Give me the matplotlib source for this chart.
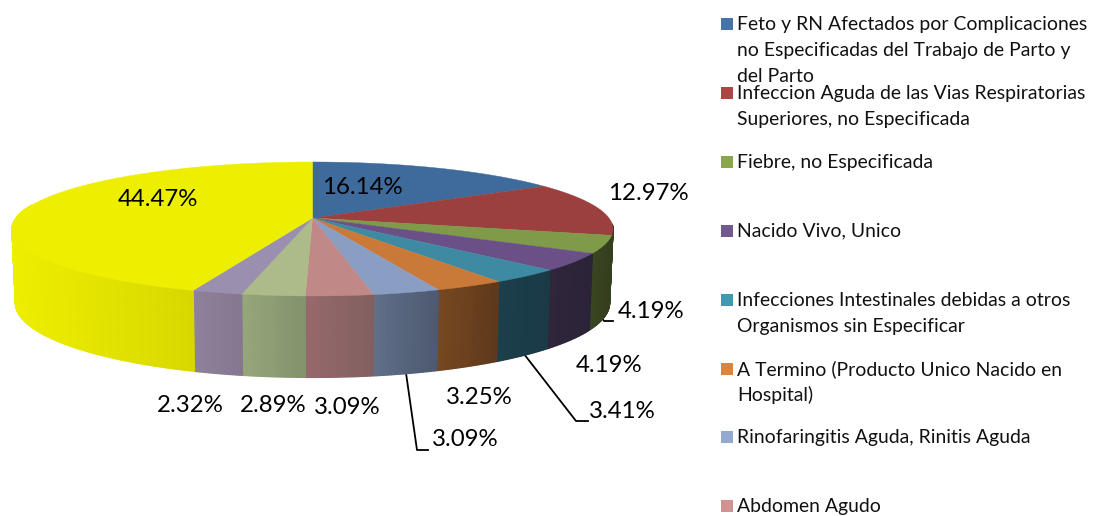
#!/usr/bin/env python3
"""3D style pie chart of hospital diagnoses, drawn on a pixel sized axes."""

import numpy as np
import matplotlib
matplotlib.use('Agg')
import matplotlib.pyplot as plt
from matplotlib.colors import to_rgb

categories = [
    'Feto y RN Afectados por Complicaciones\nno Especificadas del Trabajo de Parto y\ndel Parto',
    'Infeccion Aguda de las Vias Respiratorias\nSuperiores, no Especificada',
    'Fiebre, no Especificada',
    'Nacido Vivo, Unico',
    'Infecciones Intestinales debidas a otros\nOrganismos sin Especificar',
    'A Termino (Producto Unico Nacido en\nHospital)',
    'Rinofaringitis Aguda, Rinitis Aguda',
    'Abdomen Agudo',
]
values = [16.14, 12.97, 4.19, 4.19, 3.41, 3.25, 3.09, 3.09, 2.89, 2.32, 44.47]

top_colors = ['#3F6A9C', '#9B403F', '#7F9A48', '#6A5086', '#3D8AA2', '#C97A38',
              '#8A9DC2', '#C08987', '#ACBB88', '#9B8FAF', '#EEEE00']
wall_left = ['#2A4060', '#3A4522', '#3A4522', '#30263C', '#1B3F4B', '#764820',
             '#5F7088', '#97686B', '#95A67A', '#8E819B', '#EEEE00']
wall_right = ['#2A4060', '#343E1E', '#343E1E', '#2B2337', '#1A3A46', '#5F391C',
              '#4E5970', '#826060', '#84926D', '#857790', '#D8D800']
legend_colors = ['#4572A7', '#AA4643', '#89A54E', '#71588F', '#4198AF', '#DB843D',
                 '#93A9CF', '#D19392']

# label centres in pixels, same order as values
label_x = [362, 648, 651, 609, 622, 479, 465, 347, 273, 190, 158]
label_y = [187, 194, 312, 366, 411, 397, 440, 407, 405, 405, 199]

# leader lines for the labels that were pulled away from the pie
leaders = [
    ([598, 604, 613], [312, 321, 321]),
    ([524, 576, 588], [354, 421, 421]),
    ([406, 417, 428], [373, 450, 450]),
]

FONT = 'Lato'
CX = 312.5
PERSP = 0.164


def project(angle, radius, scale_y, y0):
    # angle in degrees, clockwise from 12 o'clock
    a = np.radians(angle)
    xx, yy = np.sin(a), np.cos(a)
    w = 1 + PERSP * yy
    return CX + radius * xx / w, y0 - scale_y * yy / w


def top_rim(angle):
    return project(angle, 296.4, 65.2, 218)


def bottom_rim(angle):
    return project(angle, 293.0, 72.2, 291)


def mix(c1, c2, t):
    c1, c2 = np.array(to_rgb(c1)), np.array(to_rgb(c2))
    return tuple(c1 + (c2 - c1) * t)


fig = plt.figure(figsize=(10.94, 5.16), dpi=100)
ax = fig.add_axes([0, 0, 1, 1])
ax.set_xlim(0, 1094)
ax.set_ylim(516, 0)
ax.axis('off')

for lx, ly in leaders:
    ax.plot(lx, ly, color='black', lw=1.3, zorder=1)

edges = np.concatenate([[0], np.cumsum(values)]) / sum(values) * 360

# side walls, only the part facing the viewer
for i in range(len(values)):
    start, end = max(edges[i], 95), min(edges[i + 1], 282)
    if end <= start:
        continue
    steps = np.linspace(start, end, max(int(end - start) * 2, 2) + 1)
    mids = top_rim((steps[:-1] + steps[1:]) / 2)[0]
    span = max(mids.max() - mids.min(), 1)
    for k in range(len(steps) - 1):
        arc = np.linspace(steps[k], steps[k + 1], 4)
        tx, ty = top_rim(arc)
        bx, by = bottom_rim(arc)
        col = mix(wall_left[i], wall_right[i], (mids[k] - mids.min()) / span)
        ax.fill(np.r_[tx, bx[::-1]], np.r_[ty, by[::-1]], color=col, lw=1.0, zorder=2)

# top face
for i in range(len(values)):
    arc = np.linspace(edges[i], edges[i + 1], 200)
    tx, ty = top_rim(arc)
    ax.fill(np.r_[CX, tx], np.r_[218, ty], color=top_colors[i], lw=0.3, zorder=3)

for v, x, y in zip(values, label_x, label_y):
    ax.text(x, y, f'{v:.2f}%', ha='center', va='center', fontsize=17.3,
            family=FONT, color='black', zorder=5)

# legend
for i, (name, col) in enumerate(zip(categories, legend_colors)):
    y = 24 + 68.9 * i
    ax.fill([721, 733, 733, 721], [y - 6, y - 6, y + 6, y + 6], color=col, lw=0, zorder=4)
    for j, line in enumerate(name.split('\n')):
        ax.text(737, y + 0.5 + 26 * j, line, ha='left', va='center', fontsize=13.95,
                family=FONT, color='#111111', zorder=5)

fig.savefig('out.png', dpi=100)
plt.close(fig)
